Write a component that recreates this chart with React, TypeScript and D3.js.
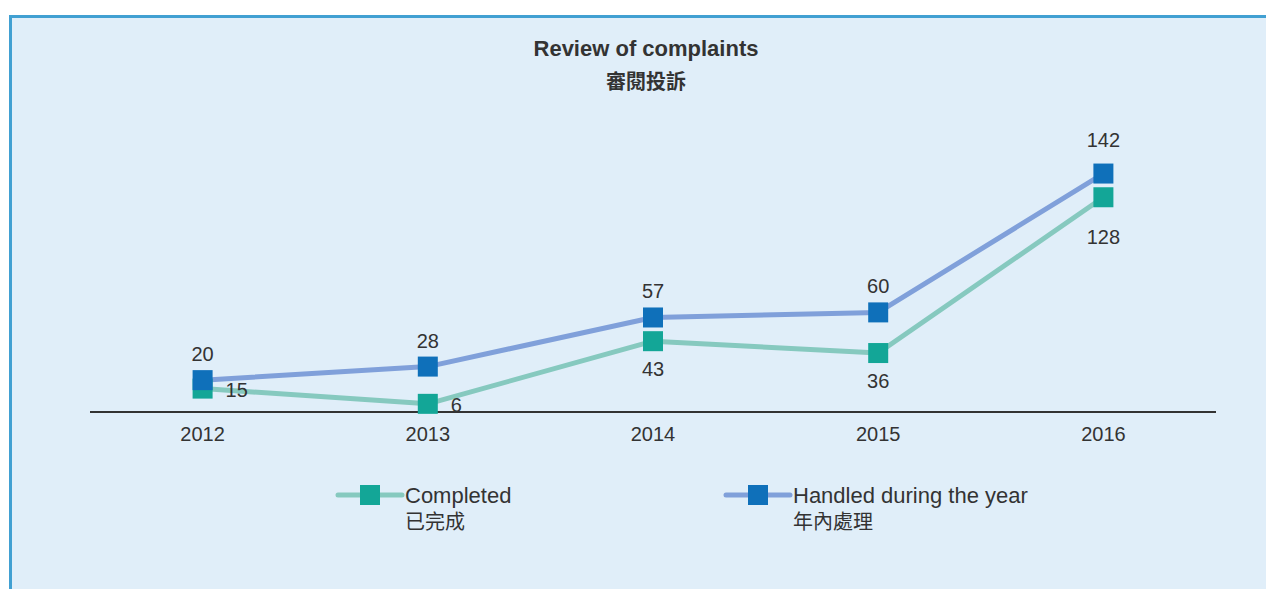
import React from "react";
import * as d3 from "d3";

const years = ["2012", "2013", "2014", "2015", "2016"];
const completed = [15, 6, 43, 36, 128];
const handled = [20, 28, 57, 60, 142];
const seriesNames = [
  { en: "Completed", zh: "已完成" },
  { en: "Handled during the year", zh: "年內處理" },
];
const titleEn = "Review of complaints";
const titleZh = "審閱投訴";

const W = 1266;
const H = 589;
const FONT = "'Liberation Sans', Arial, Helvetica, sans-serif";
const CJK = "'Noto Sans CJK TC', 'Noto Sans CJK SC', sans-serif";

const COMP_LINE = "#86c9bf";
const COMP_MARK = "#13a697";
const HAND_LINE = "#80a0da";
const HAND_MARK = "#0f70ba";
const TEXT = "#333333";

export default function App() {
  const x = d3.scalePoint<string>().domain(years).range([90, 1216]).padding(0.5);
  const y = d3.scaleLinear().domain([0, 150]).range([414, 160]);
  const line = d3
    .line<number>()
    .x((_, i) => x(years[i]) as number)
    .y((d) => y(d));

  const ms = 20;
  const axisY = 412;

  const compLabelPos = (i: number) => {
    if (i <= 1) return { dx: 23, dy: 8, anchor: "start" };
    if (i === 4) return { dx: 0, dy: 47, anchor: "middle" };
    return { dx: 0, dy: 35, anchor: "middle" };
  };

  return (
    <div style={{ position: "absolute", left: 0, top: 0 }}>
      <svg width={W} height={H} style={{ display: "block" }}>
        <rect x={0} y={0} width={W} height={H} fill="#ffffff" />
        <rect x={9} y={15} width={W - 9} height={H - 15} fill="#e0eef9" />
        <rect x={9} y={15} width={W - 9} height={3} fill="#41a0d2" />
        <rect x={9} y={15} width={3} height={H - 15} fill="#41a0d2" />

        <text x={646} y={56} textAnchor="middle" fontFamily={FONT} fontWeight="bold" fontSize={22} fill={TEXT}>
          {titleEn}
        </text>
        <text x={646} y={89} textAnchor="middle" fontFamily={CJK} fontWeight="bold" fontSize={20} fill={TEXT}>
          {titleZh}
        </text>

        {/* axis */}
        <line x1={90} x2={1216} y1={axisY} y2={axisY} stroke="#333" strokeWidth={2} />
        {years.map((yr) => (
          <text key={yr} x={x(yr)} y={axisY + 29} textAnchor="middle" fontFamily={FONT} fontSize={20} fill={TEXT}>
            {yr}
          </text>
        ))}

        {/* lines */}
        <path d={line(completed) || ""} fill="none" stroke={COMP_LINE} strokeWidth={5} strokeLinejoin="round" />
        <path d={line(handled) || ""} fill="none" stroke={HAND_LINE} strokeWidth={5} strokeLinejoin="round" />

        {completed.map((v, i) => (
          <rect key={"c" + i} x={(x(years[i]) as number) - ms / 2} y={y(v) - ms / 2} width={ms} height={ms} fill={COMP_MARK} />
        ))}
        {handled.map((v, i) => (
          <rect key={"h" + i} x={(x(years[i]) as number) - ms / 2} y={y(v) - ms / 2} width={ms} height={ms} fill={HAND_MARK} />
        ))}

        {handled.map((v, i) => (
          <text key={"hl" + i} x={x(years[i])} y={y(v) - (i === 4 ? 27 : 19)} textAnchor="middle" fontFamily={FONT} fontSize={20} fill={TEXT}>
            {v}
          </text>
        ))}
        {completed.map((v, i) => {
          const p = compLabelPos(i);
          return (
            <text
              key={"cl" + i}
              x={(x(years[i]) as number) + p.dx}
              y={y(v) + p.dy}
              textAnchor={p.anchor as any}
              fontFamily={FONT}
              fontSize={20}
              fill={TEXT}
            >
              {v}
            </text>
          );
        })}

        {/* legend */}
        {[
          { x0: 338, lc: COMP_LINE, mc: COMP_MARK, n: seriesNames[0] },
          { x0: 726, lc: HAND_LINE, mc: HAND_MARK, n: seriesNames[1] },
        ].map((l, i) => (
          <g key={"lg" + i}>
            <line x1={l.x0} x2={l.x0 + 64} y1={495} y2={495} stroke={l.lc} strokeWidth={5} strokeLinecap="round" />
            <rect x={l.x0 + 32 - 10} y={485} width={20} height={20} fill={l.mc} />
            <text x={l.x0 + 67} y={503} fontFamily={FONT} fontSize={22} fill={TEXT}>
              {l.n.en}
            </text>
            <text x={l.x0 + 67} y={529} fontFamily={CJK} fontSize={20} fill={TEXT}>
              {l.n.zh}
            </text>
          </g>
        ))}
      </svg>
    </div>
  );
}
